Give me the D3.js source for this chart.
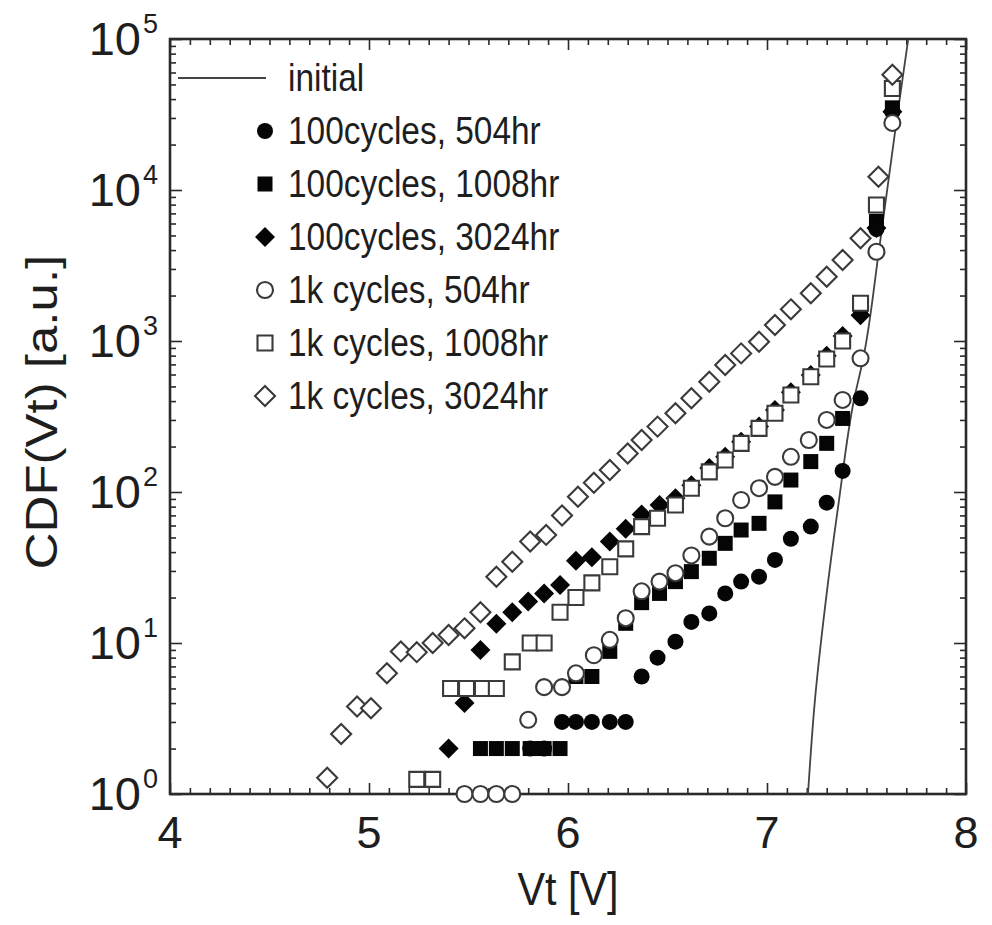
<!DOCTYPE html>
<html>
<head>
<meta charset="utf-8">
<script src="https://cdn.jsdelivr.net/npm/d3@7"></script>
<style>
  body { margin: 0; background: #fff; }
  text { font-family: "Liberation Sans", Arial, sans-serif; fill: #1e1e1e; }
</style>
</head>
<body>
<script>
var W = 992, H = 925;
var frame = { left: 170, right: 966, top: 39, bottom: 794 };

// tick labels
var xTicks = [4, 5, 6, 7, 8];
var yExps = [0, 1, 2, 3, 4, 5];

// initial distribution (solid line)
var initV = [7.206, 7.241, 7.296, 7.362, 7.437, 7.482, 7.563, 7.648, 7.709];
var initY = [1, 4.2, 19.3, 88.5, 407, 748, 4010, 26900, 98400];

// 100cycles, 504hr (filled circle)
var c100h504V = [5.81, 5.88, 5.97, 6.04, 6.12, 6.21, 6.29, 6.37, 6.45, 6.54, 6.62, 6.71, 6.79, 6.87, 6.96, 7.04, 7.12, 7.22, 7.30, 7.38, 7.47, 7.55, 7.63];
var c100h504Y = [2, 2, 3, 3, 3, 3, 3, 6, 8, 10.2, 13.8, 15.7, 21.3, 25.5, 27.5, 35.5, 49, 59, 85, 138, 417, 5500, 33000];

// 100cycles, 1008hr (filled square)
var c100h1008V = [5.56, 5.64, 5.72, 5.81, 5.88, 5.96, 6.04, 6.12, 6.21, 6.29, 6.37, 6.46, 6.54, 6.62, 6.71, 6.79, 6.87, 6.96, 7.04, 7.12, 7.22, 7.30, 7.38, 7.47, 7.55, 7.63];
var c100h1008Y = [2, 2, 2, 2, 2, 2, 6, 6, 8.8, 13.5, 18.5, 21.3, 25.5, 29.7, 36.4, 45.7, 56, 62, 86, 120, 159, 210, 307, 1650, 6200, 35000];

// 100cycles, 3024hr (filled diamond)
var c100h3024V = [5.40, 5.48, 5.56, 5.64, 5.72, 5.80, 5.88, 5.96, 6.04, 6.12, 6.21, 6.29, 6.37, 6.46, 6.54, 6.62, 6.71, 6.79, 6.87, 6.96, 7.04, 7.12, 7.22, 7.30, 7.38, 7.47, 7.55, 7.63];
var c100h3024Y = [2, 4, 9, 13.4, 16, 18.8, 21.3, 24.2, 35, 37, 47, 57, 71, 82, 91, 111, 144, 171, 215, 271, 349, 457, 596, 800, 1080, 1480, 5600, 33000];

// 1k cycles, 504hr (open circle)
var c1kh504V = [5.48, 5.56, 5.64, 5.72, 5.80, 5.88, 5.97, 6.04, 6.13, 6.21, 6.29, 6.37, 6.46, 6.54, 6.62, 6.71, 6.79, 6.87, 6.96, 7.04, 7.12, 7.21, 7.30, 7.38, 7.47, 7.55, 7.63];
var c1kh504Y = [1, 1, 1, 1, 3.1, 5.1, 5.1, 6.3, 8.3, 10.5, 14.6, 22, 25.5, 29, 38, 50.6, 67, 88.5, 106, 126, 171, 221, 300, 407, 768, 3900, 27800];

// 1k cycles, 1008hr (open square)
var c1kh1008V = [5.24, 5.32, 5.41, 5.49, 5.57, 5.64, 5.72, 5.81, 5.88, 5.96, 6.04, 6.12, 6.21, 6.29, 6.37, 6.45, 6.54, 6.62, 6.71, 6.79, 6.87, 6.96, 7.04, 7.12, 7.22, 7.30, 7.38, 7.47, 7.55, 7.63];
var c1kh1008Y = [1.25, 1.25, 5, 5, 5, 5, 7.5, 10, 10, 16, 20, 25, 32, 42, 59, 67, 82, 106, 136, 163, 210, 264, 332, 439, 580, 760, 1000, 1780, 7950, 47000];

// 1k cycles, 3024hr (open diamond)
var c1kh3024V = [4.79, 4.86, 4.94, 5.01, 5.09, 5.16, 5.24, 5.32, 5.40, 5.48, 5.56, 5.64, 5.72, 5.81, 5.89, 5.97, 6.05, 6.13, 6.21, 6.30, 6.37, 6.45, 6.54, 6.62, 6.71, 6.79, 6.87, 6.96, 7.04, 7.12, 7.22, 7.30, 7.38, 7.47, 7.56, 7.63];
var c1kh3024Y = [1.28, 2.5, 3.8, 3.7, 6.3, 8.8, 8.7, 10, 11.3, 12.5, 16, 27.5, 34.5, 47, 52, 70, 93, 115, 140, 180, 221, 271, 332, 417, 537, 693, 828, 990, 1277, 1620, 2070, 2667, 3440, 4790, 12250, 58000];

var series = [
    { name: "100cycles, 504hr",  v: c100h504V,  y: c100h504Y,  shape: "circle",  open: false },
    { name: "100cycles, 1008hr", v: c100h1008V, y: c100h1008Y, shape: "square",  open: false },
    { name: "100cycles, 3024hr", v: c100h3024V, y: c100h3024Y, shape: "diamond", open: false },
    { name: "1k cycles, 504hr",  v: c1kh504V,   y: c1kh504Y,   shape: "circle",  open: true },
    { name: "1k cycles, 1008hr", v: c1kh1008V,  y: c1kh1008Y,  shape: "square",  open: true },
    { name: "1k cycles, 3024hr", v: c1kh3024V,  y: c1kh3024Y,  shape: "diamond", open: true }
];

var svg = d3.select("body").append("svg")
    .attr("width", W)
    .attr("height", H);

var xscale = d3.scaleLinear().domain([4, 8]).range([frame.left, frame.right]);
var yscale = d3.scaleLog().domain([1, 1e5]).range([frame.bottom, frame.top]);

var axisColor = "#2a2a2a";
var sx = 0.88; // the figure text is a bit condensed

// minor/major tick positions
var xMinor = d3.range(4, 8.001, 0.1).filter(function (d) { return Math.abs(d - Math.round(d)) > 1e-6; });
var yMinor = [];
yExps.slice(0, -1).forEach(function (e) {
    for (var k = 2; k <= 9; k++) yMinor.push(k * Math.pow(10, e));
});
var yMajor = yExps.map(function (e) { return Math.pow(10, e); });

function tickAxis(axisFn, scale, values, size, tr) {
    var g = svg.append("g")
        .attr("transform", tr)
        .call(axisFn(scale).tickValues(values).tickSize(size).tickFormat(""));
    g.select(".domain").remove();
    g.selectAll("line").attr("stroke", axisColor).attr("stroke-width", 1.6);
    return g;
}

// ticks point inward on all four sides
tickAxis(d3.axisTop, xscale, xMinor, 6, "translate(0," + frame.bottom + ")");
tickAxis(d3.axisTop, xscale, xTicks, 11, "translate(0," + frame.bottom + ")");
tickAxis(d3.axisBottom, xscale, xMinor, 6, "translate(0," + frame.top + ")");
tickAxis(d3.axisBottom, xscale, xTicks, 11, "translate(0," + frame.top + ")");
tickAxis(d3.axisRight, yscale, yMinor, 6, "translate(" + frame.left + ",0)");
tickAxis(d3.axisRight, yscale, yMajor, 12, "translate(" + frame.left + ",0)");
tickAxis(d3.axisLeft, yscale, yMinor, 6, "translate(" + frame.right + ",0)");
tickAxis(d3.axisLeft, yscale, yMajor, 12, "translate(" + frame.right + ",0)");

svg.append("rect")
    .attr("x", frame.left)
    .attr("y", frame.top)
    .attr("width", frame.right - frame.left)
    .attr("height", frame.bottom - frame.top)
    .attr("fill", "none")
    .attr("stroke", axisColor)
    .attr("stroke-width", 2.6);

// x tick labels
xTicks.forEach(function (t) {
    svg.append("g")
        .attr("transform", "translate(" + xscale(t) + ",848)")
        .append("text")
        .attr("text-anchor", "middle")
        .style("font-size", "45px")
        .text(t);
});

// y tick labels, 10 with exponent
yExps.forEach(function (e) {
    var g = svg.append("g")
        .attr("transform", "translate(141," + (yscale(Math.pow(10, e)) + 16) + ")");
    g.append("text")
        .attr("text-anchor", "end")
        .style("font-size", "47px")
        .text("10");
    g.append("text")
        .attr("x", 2)
        .attr("y", -22)
        .style("font-size", "27px")
        .text(e);
});

// axis titles
svg.append("g")
    .attr("transform", "translate(" + ((frame.left + frame.right) / 2) + ",905) scale(" + sx + ",1)")
    .append("text")
    .attr("text-anchor", "middle")
    .style("font-size", "47px")
    .text("Vt [V]");

svg.append("g")
    .attr("transform", "translate(57,412) scale(" + sx + ",1) rotate(-90)")
    .append("text")
    .attr("text-anchor", "middle")
    .style("font-size", "51px")
    .text("CDF(Vt) [a.u.]");

// marker shapes
function markerPath(shape) {
    if (shape === "circle") return d3.symbol().type(d3.symbolCircle).size(Math.PI * 8 * 8)();
    if (shape === "square") return "M-7.5,-7.5H7.5V7.5H-7.5Z";
    return "M0,-10L10,0L0,10L-10,0Z";
}
function styleMarker(sel, s) {
    sel.attr("d", markerPath(s.shape))
        .attr("fill", s.open ? "#fff" : "#050505")
        .attr("stroke", s.open ? "#3a3a3a" : "none")
        .attr("stroke-width", s.open ? 2.1 : 0);
}

var plot = svg.append("g");

// initial line
var initData = initV.map(function (v, i) { return [v, initY[i]]; });
svg.append("clipPath").attr("id", "clip")
    .append("rect")
    .attr("x", frame.left).attr("y", frame.top)
    .attr("width", frame.right - frame.left).attr("height", frame.bottom - frame.top);

plot.append("path")
    .datum(initData)
    .attr("clip-path", "url(#clip)")
    .attr("fill", "none")
    .attr("stroke", "#444")
    .attr("stroke-width", 1.8)
    .attr("d", d3.line()
        .curve(d3.curveMonotoneY)
        .x(function (d) { return xscale(d[0]); })
        .y(function (d) { return yscale(d[1]); }));

series.forEach(function (s) {
    var pts = s.v.map(function (v, i) { return [v, s.y[i]]; });
    plot.append("g").selectAll("path")
        .data(pts)
        .enter().append("path")
        .attr("transform", function (d) { return "translate(" + xscale(d[0]) + "," + yscale(d[1]) + ")"; })
        .call(styleMarker, s);
});

// legend
var legY0 = 78, legStep = 53;
svg.append("line")
    .attr("x1", 178).attr("x2", 266)
    .attr("y1", legY0).attr("y2", legY0)
    .attr("stroke", "#444")
    .attr("stroke-width", 2);
svg.append("g")
    .attr("transform", "translate(288," + (legY0 + 13) + ") scale(" + sx + ",1)")
    .append("text")
    .style("font-size", "38px")
    .text("initial");

series.forEach(function (s, i) {
    var yy = legY0 + legStep * (i + 1);
    svg.append("path")
        .attr("transform", "translate(265," + yy + ")")
        .call(styleMarker, s);
    svg.append("g")
        .attr("transform", "translate(288," + (yy + 13) + ") scale(" + sx + ",1)")
        .append("text")
        .style("font-size", "38px")
        .text(s.name);
});
</script>
</body>
</html>
